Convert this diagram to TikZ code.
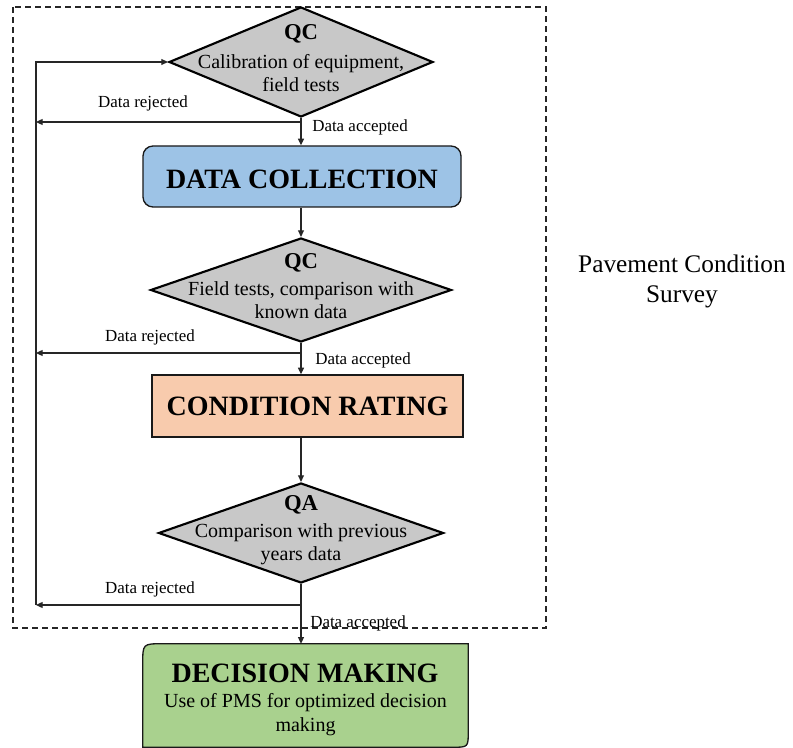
\documentclass[tikz,border=0pt]{standalone}
\usepackage{fontspec}
\setmainfont{Liberation Serif}
\usetikzlibrary{shapes.geometric,arrows.meta}
\newdimen\pxu \pxu=0.75pt
\definecolor{dcblue}{HTML}{9DC3E6}
\definecolor{crpeach}{HTML}{F8CBAD}
\definecolor{dmgreen}{HTML}{A9D18E}
\definecolor{qgray}{HTML}{C8C8C8}
\begin{document}
\begin{tikzpicture}[x=0.75pt,y=-0.75pt,
  qdia/.style={diamond, draw=black, line width=1.6pt, fill=qgray, inner sep=0pt},
  conn/.style={line width=0.9pt, draw=black!85},
  arr/.style={conn, -{Triangle[length=5pt,width=4.5pt]}},
  lbl/.style={font=\fontsize{12.7}{15}\selectfont, inner sep=0pt},
  body/.style={font=\fontsize{15}{17.25}\selectfont, align=center, inner sep=0pt},
  qtitle/.style={font=\fontsize{17}{20}\selectfont\bfseries, inner sep=0pt},
  btitle/.style={font=\fontsize{21}{24}\selectfont\bfseries, inner sep=0pt},
  boxline/.style={draw=black!90, line width=1pt}]
\useasboundingbox (0,0) rectangle (793,748);

% dashed survey frame
\draw[black!85, line width=0.9pt, dash pattern=on 4.5pt off 3pt] (13,7) rectangle (546,628);
\node[font=\fontsize{19}{23}\selectfont, align=center, inner sep=0pt] (pcs) at (682,281.5) {Pavement Condition\\Survey};

% QC 1
\node[qdia, minimum width=264\pxu, minimum height=110\pxu] (q1) at (301,62) {};
\node[qtitle] (q1t) at (301,34) {QC};
\node[body] (q1b) at (301,73.5) {Calibration of equipment,\\field tests};

% Data collection
\node[boxline, fill=dcblue, rounded corners=10\pxu, minimum width=318\pxu, minimum height=61\pxu, btitle, text height=17.7pt, text depth=0pt] (dc) at (302,176.5) {DATA COLLECTION};

% QC 2
\node[qdia, minimum width=301\pxu, minimum height=104\pxu] (q2) at (301,290) {};
\node[qtitle] (q2t) at (301,263) {QC};
\node[body] (q2b) at (301,300.5) {Field tests, comparison with\\known data};

% Condition rating
\node[boxline, fill=crpeach, minimum width=311\pxu, minimum height=62\pxu, btitle] (cr) at (307.5,406) {CONDITION RATING};

% QA
\node[qdia, minimum width=285\pxu, minimum height=100\pxu] (q3) at (301,533) {};
\node[qtitle] (q3t) at (301,505) {QA};
\node[body] (q3b) at (301,544) {Comparison with previous\\years data};

% Decision making
\node[minimum width=325\pxu, minimum height=103\pxu, inner sep=0pt] (dm) at (305.5,695.5) {};
\draw[boxline, fill=dmgreen] (dm.south west) -- ([yshift=-20\pxu]dm.north west)
  .. controls (dm.north west) .. ([xshift=20\pxu]dm.north west) -- (dm.north east)
  -- ([yshift=16\pxu]dm.south east) .. controls (dm.south east) .. ([xshift=-16\pxu]dm.south east) -- cycle;
\node[btitle] (dmt) at (305,673) {DECISION MAKING};
\node[body, font=\fontsize{15}{18}\selectfont] (dmb) at (305.5,715) {Use of PMS for optimized decision\\making};

% main flow
\draw[arr] (q1.south) -- (q1.south |- dc.north);
\draw[arr] (q1.south |- dc.south) -- (q2.north);
\draw[arr] (q2.south) -- (q2.south |- cr.north);
\draw[arr] (q2.south |- cr.south) -- (q3.north);
\draw[arr] (q3.south) -- (q3.south |- dm.north);

% rejection paths
\coordinate (r1) at (301,122); \coordinate (l1) at (36,122);
\coordinate (r2) at (301,353); \coordinate (l2) at (36,353);
\coordinate (r3) at (301,605); \coordinate (l3) at (36,605);
\coordinate (lt) at (36,62);
\draw[arr] (r1) -- (l1);
\draw[arr] (r2) -- (l2);
\draw[arr] (r3) -- (l3);
\draw[arr] (l3) -- (lt) -- (q1.west);

% labels
\node[lbl] (rej1) at (143,103) {Data rejected};
\node[lbl] (acc1) at (360,127) {Data accepted};
\node[lbl] (rej2) at (150,337) {Data rejected};
\node[lbl] (acc2) at (363,360) {Data accepted};
\node[lbl] (rej3) at (150,589) {Data rejected};
\node[lbl] (acc3) at (358,623) {Data accepted};
\end{tikzpicture}
\end{document}
